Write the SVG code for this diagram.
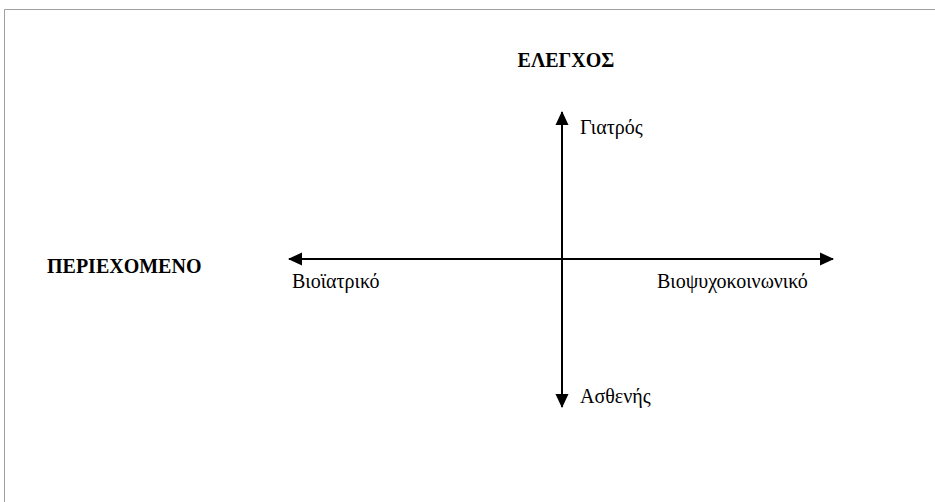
<svg xmlns="http://www.w3.org/2000/svg" width="935" height="502" viewBox="0 0 935 502">
<defs>
<style>
.t{font-family:"Liberation Serif","Times New Roman",serif;font-size:20px;fill:#000}
.b{font-family:"Liberation Serif","Times New Roman",serif;font-size:20px;font-weight:bold;fill:#000}
.ax{stroke:#000;stroke-width:2;fill:none}
</style>
<marker id="ah" markerWidth="14" markerHeight="14" refX="13" refY="7" orient="auto" markerUnits="userSpaceOnUse">
<path d="M0,0.5 L14,7 L0,13.5 Z" fill="#000"/>
</marker>
</defs>
<rect x="0" y="0" width="935" height="502" fill="#fff"/>
<path d="M4.5,502 V9.5 H935" stroke="#a0a0a0" stroke-width="1" fill="none"/>
<g id="connectors">
<line class="ax" x1="562" y1="259" x2="289" y2="259" marker-end="url(#ah)"/>
<line class="ax" x1="562" y1="259" x2="833" y2="259" marker-end="url(#ah)"/>
<line class="ax" x1="562" y1="259" x2="562" y2="112" marker-end="url(#ah)"/>
<line class="ax" x1="562" y1="259" x2="562" y2="407" marker-end="url(#ah)"/>
</g>
<g id="title-control"><text class="b" x="566" y="67" text-anchor="middle">ΕΛΕΓΧΟΣ</text></g>
<g id="title-content"><text class="b" x="47" y="273">ΠΕΡΙΕΧΟΜΕΝΟ</text></g>
<g id="doctor"><text class="t" x="580" y="134">Γιατρός</text></g>
<g id="patient"><text class="t" x="580" y="403">Ασθενής</text></g>
<g id="biomedical"><text class="t" x="292" y="288">Βιοϊατρικό</text></g>
<g id="biopsychosocial"><text class="t" x="657" y="288">Βιοψυχοκοινωνικό</text></g>
</svg>
